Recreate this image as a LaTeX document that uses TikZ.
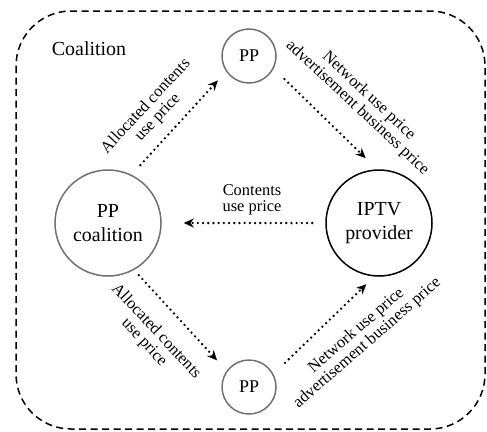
\documentclass[tikz,border=0pt]{standalone}
\usepackage{fontspec}
\setmainfont{Liberation Serif}
\usetikzlibrary{arrows.meta}
\definecolor{ringgray}{RGB}{112,112,112}

\begin{document}
\begin{tikzpicture}[x=1bp, y=-1bp,
    ring/.style={circle, draw, line width=1.5bp, align=center, inner sep=0pt},
    bigring/.style={ring, minimum size=106bp, font=\fontsize{20}{24}\selectfont},
    smallring/.style={ring, draw=ringgray, minimum size=54bp, font=\fontsize{18}{20}\selectfont},
    lbl/.style={align=center, inner sep=0pt, font=\fontsize{16.5}{16.5}\selectfont},
    flow/.style={line width=2.6bp, line cap=round, dash pattern=on 0bp off 5.2bp,
      -{Stealth[length=10bp, width=9bp]}}]
    \useasboundingbox (0,0) rectangle (487,431);

    \coordinate (Coal) at (108, 223);
    \coordinate (Iptv) at (379, 223);
    \coordinate (Top) at (249, 56);
    \coordinate (Bot) at (249, 387);

    % the coalition frame
    \draw[line width=1.5bp, dash pattern=on 7bp off 4.5bp, rounded corners=55bp]
      (16, 11) rectangle (485, 429);
    \node[font=\fontsize{20}{24}\selectfont] (coaltitle) at (89, 49) {Coalition};

    \node[bigring, draw=ringgray] (ppc) at (Coal) {PP\\coalition};
    \node[bigring] (iptv) at (Iptv) {IPTV\\provider};
    \node[smallring] (pptop) at (Top) {PP};
    \node[smallring] (ppbot) at (Bot) {PP};

    \draw[flow, shorten <=13bp, shorten >=12bp] (ppc.64) -- (pptop.214);
    \draw[flow, shorten <=15bp, shorten >=16bp] (pptop.-27) -- (iptv.92);
    \draw[flow, shorten <=13bp, shorten >=22bp] (iptv.west) -- (ppc.east);
    \draw[flow, shorten <=7bp, shorten >=14bp] (ppc.-61) -- (ppbot.144);
    \draw[flow, shorten <=16bp, shorten >=11bp] (ppbot.28) -- (iptv.-95);

    \node[lbl, rotate=47] (allocup) at (152, 112) {Allocated contents\\use price};
    \node[lbl, rotate=-43] (netup) at (363, 102) {Network use price\\advertisement business price};
    \node[lbl] (contents) at (252, 200) {Contents\\use price};
    \node[lbl, rotate=-47] (allocdown) at (150, 337) {Allocated contents\\use price};
    \node[lbl, rotate=41] (netdown) at (362, 337) {Network use price\\advertisement business price};
\end{tikzpicture}
\end{document}
